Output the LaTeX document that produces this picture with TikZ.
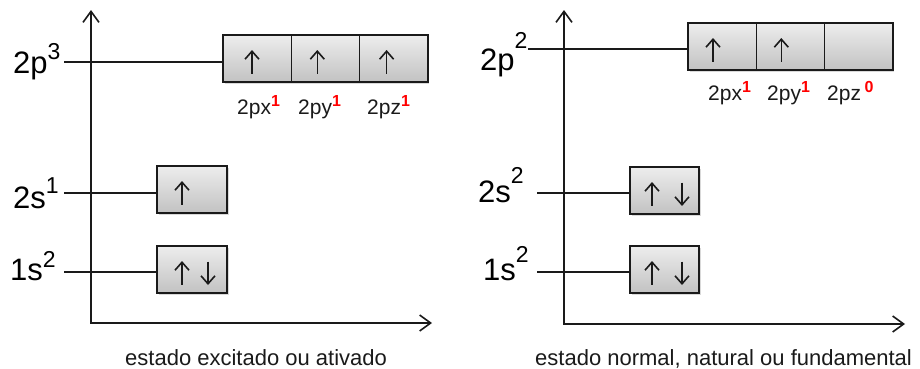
\documentclass[tikz,border=0pt]{standalone}
\usepackage{fontspec}
\setmainfont{Liberation Sans}
\usetikzlibrary{arrows.meta,shadows,calc}
\definecolor{boxtop}{HTML}{EDEDED}
\definecolor{boxbot}{HTML}{C2C2C2}
\definecolor{ink}{HTML}{1A1A1A}
\definecolor{supred}{HTML}{FF0000}
\newcommand\msup[2]{\raisebox{#1pt}{\fontsize{23}{23}\selectfont #2}}
\newcommand\rsup[1]{\raisebox{8pt}{\fontsize{16}{16}\selectfont\bfseries\color{supred}#1}}
\newcommand\eup[2]{\draw[el] ($(#1.north west)+(#2,38.5)$) -- ($(#1.north west)+(#2,15)$);}
\newcommand\edown[2]{\draw[el] ($(#1.north west)+(#2,15.5)$) -- ($(#1.north west)+(#2,39)$);}
\begin{document}
\begin{tikzpicture}[x=1pt,y=-1pt,
  orb/.style={draw=ink, line width=1.6pt, top color=boxtop, bottom color=boxbot,
    minimum height=47pt, inner sep=0pt, outer sep=0pt, anchor=north west,
    drop shadow={opacity=0.3, shadow xshift=1.5pt, shadow yshift=-2pt}},
  lvl/.style={draw=ink, line width=1.5pt},
  axis/.style={draw=ink, line width=1.6pt,
    {Straight Barb[length=11pt,width=16pt]}-{Straight Barb[length=11pt,width=16pt]}},
  el/.style={draw=ink, line width=1.6pt, -{Straight Barb[length=8pt,width=14pt]}},
  lab/.style={font=\fontsize{31}{31}\selectfont, inner sep=0pt, anchor=base west},
  sublab/.style={font=\fontsize{21}{21}\selectfont, text=ink, inner sep=0pt, anchor=base west},
  captext/.style={font=\fontsize{22}{22}\selectfont, text=ink, inner sep=0pt, anchor=base west}]
\useasboundingbox (0,0) rectangle (920,368);

% ---------- left panel: excited state ----------
\coordinate (LY) at (91,10);
\coordinate (LX) at (432,323);
\draw[axis] (LY) |- (LX);

\node[orb, minimum width=68.3pt] (Lpx) at (223,35) {};
\node[orb, minimum width=68.3pt] (Lpy) at (291.3,35) {};
\node[orb, minimum width=68.3pt] (Lpz) at (359.6,35) {};
\node[orb, minimum width=70pt] (Ls2) at (157,166) {};
\node[orb, minimum width=70pt] (Ls1) at (157,246) {};

\eup{Lpx}{29} \eup{Lpy}{26} \eup{Lpz}{27}
\eup{Ls2}{25}
\eup{Ls1}{25} \edown{Ls1}{51}

\node[lab] (L2p) at (13,73) {2p\msup{14}{3}};
\node[lab] (L2s) at (13,208) {2s\msup{15}{1}};
\node[lab] (L1s) at (10,280) {1s\msup{13}{2}};

\coordinate (a2p) at (64,62);
\coordinate (a2s) at (64,193);
\coordinate (a1s) at (64,272);
\draw[lvl] (a2p) -- (a2p -| Lpx.west);
\draw[lvl] (a2s) -- (a2s -| Ls2.west);
\draw[lvl] (a1s) -- (a1s -| Ls1.west);

\node[sublab] (Lnx) at (237,114.5) {2px\rsup{1}};
\node[sublab] (Lny) at (298,114.5) {2py\rsup{1}};
\node[sublab] (Lnz) at (367,114.5) {2pz\rsup{1}};

\node[captext] (Lcap) at (125,365) {estado excitado ou ativado};

% ---------- right panel: ground state ----------
\coordinate (RY) at (564,10);
\coordinate (RX) at (905,324);
\draw[axis] (RY) |- (RX);

\node[orb, minimum width=68.3pt] (Rpx) at (688,23) {};
\node[orb, minimum width=68.3pt] (Rpy) at (756.3,23) {};
\node[orb, minimum width=68.3pt] (Rpz) at (824.6,23) {};
\node[orb, minimum width=69pt] (Rs2) at (630,167) {};
\node[orb, minimum width=69pt] (Rs1) at (630,246) {};

\eup{Rpx}{25} \eup{Rpy}{25}
\eup{Rs2}{22} \edown{Rs2}{52}
\eup{Rs1}{22} \edown{Rs1}{52}

\node[lab] (R2p) at (480,70) {2p\msup{22}{2}};
\node[lab] (R2s) at (478,202) {2s\msup{19}{2}};
\node[lab] (R1s) at (483,280) {1s\msup{18}{2}};

\coordinate (b2p) at (528,49);
\coordinate (b2s) at (537,193);
\coordinate (b1s) at (537,272);
\draw[lvl] (b2p) -- (b2p -| Rpx.west);
\draw[lvl] (b2s) -- (b2s -| Rs2.west);
\draw[lvl] (b1s) -- (b1s -| Rs1.west);

\node[sublab] (Rnx) at (708,100) {2px\rsup{1}};
\node[sublab] (Rny) at (767,100) {2py\rsup{1}};
\node[sublab] (Rnz) at (827,100) {2pz\,\rsup{0}};

\node[captext] (Rcap) at (535,365) {estado normal, natural ou fundamental};
\end{tikzpicture}
\end{document}
